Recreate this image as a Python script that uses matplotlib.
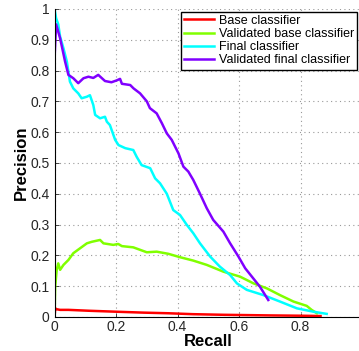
import matplotlib
matplotlib.use('Agg')
import matplotlib.pyplot as plt
from matplotlib.ticker import FuncFormatter

plt.rcParams['font.family'] = ['Liberation Sans', 'DejaVu Sans']

# 曲线数据 (recall, precision)
base_r = [0.0, 0.002, 0.007, 0.018, 0.045, 0.115, 0.2, 0.29, 0.37, 0.45, 0.55, 0.7, 0.8, 0.865]
base_p = [0.0, 0.028, 0.025, 0.023, 0.023, 0.02, 0.017, 0.014, 0.012, 0.009, 0.007, 0.005, 0.004, 0.003]

vbase_r = [0.0, 0.002, 0.007, 0.012, 0.018, 0.029, 0.045, 0.061, 0.083, 0.105, 0.121, 0.148,
           0.159, 0.191, 0.207, 0.219, 0.256, 0.278, 0.30, 0.332, 0.37, 0.408, 0.451, 0.495,
           0.549, 0.603, 0.647, 0.69, 0.733, 0.777, 0.82, 0.836, 0.853]
vbase_p = [0.0, 0.098, 0.153, 0.174, 0.153, 0.169, 0.185, 0.207, 0.223, 0.239, 0.244, 0.25,
           0.239, 0.234, 0.237, 0.23, 0.226, 0.218, 0.21, 0.212, 0.205, 0.194, 0.183, 0.169,
           0.147, 0.131, 0.109, 0.093, 0.071, 0.05, 0.036, 0.023, 0.012]

final_r = [0.0, 0.005, 0.012, 0.018, 0.029, 0.04, 0.045, 0.05, 0.061, 0.077, 0.088, 0.105,
           0.115, 0.126, 0.132, 0.148, 0.164, 0.17, 0.18, 0.197, 0.208, 0.23, 0.256, 0.267,
           0.283, 0.311, 0.327, 0.343, 0.365, 0.386, 0.408, 0.43, 0.451, 0.473, 0.506, 0.538,
           0.571, 0.593, 0.625, 0.679, 0.733, 0.788, 0.842, 0.885]
final_p = [1.0, 0.97, 0.95, 0.91, 0.872, 0.829, 0.796, 0.764, 0.742, 0.726, 0.71, 0.715,
           0.72, 0.688, 0.656, 0.645, 0.65, 0.634, 0.623, 0.575, 0.558, 0.548, 0.542, 0.52,
           0.493, 0.483, 0.45, 0.434, 0.40, 0.347, 0.331, 0.299, 0.272, 0.239, 0.196, 0.163,
           0.136, 0.109, 0.088, 0.071, 0.05, 0.028, 0.017, 0.01]

vfinal_r = [0.0, 0.0, 0.005, 0.018, 0.034, 0.045, 0.061, 0.077, 0.094, 0.11, 0.126, 0.142,
            0.164, 0.185, 0.202, 0.213, 0.219, 0.246, 0.257, 0.278, 0.30, 0.31, 0.332, 0.349,
            0.365, 0.381, 0.403, 0.419, 0.435, 0.451, 0.473, 0.495, 0.516, 0.549, 0.571, 0.598,
            0.62, 0.668, 0.695]
vfinal_p = [1.0, 0.84, 0.95, 0.905, 0.83, 0.786, 0.775, 0.759, 0.775, 0.78, 0.776, 0.786,
            0.766, 0.762, 0.768, 0.773, 0.757, 0.753, 0.742, 0.726, 0.70, 0.678, 0.661, 0.629,
            0.596, 0.575, 0.531, 0.488, 0.472, 0.445, 0.40, 0.353, 0.315, 0.277, 0.239, 0.196,
            0.158, 0.098, 0.055]

labels = ['Base classifier', 'Validated base classifier', 'Final classifier',
          'Validated final classifier']
colors = ['#ff0000', '#80ff00', '#00ffff', '#8000ff']

fig = plt.figure(figsize=(3.59, 3.51), dpi=100)
ax = fig.add_axes([0.152, 0.097, 0.8565, 0.8775])

ax.plot(base_r, base_p, color=colors[0], lw=1.8, label=labels[0])
ax.plot(vbase_r, vbase_p, color=colors[1], lw=1.8, label=labels[1])
ax.plot(final_r, final_p, color=colors[2], lw=1.8, label=labels[2])
ax.plot(vfinal_r, vfinal_p, color=colors[3], lw=1.8, label=labels[3])

ax.set_xlim(0, 1)
ax.set_ylim(0, 1)
ax.set_xticks([0, 0.2, 0.4, 0.6, 0.8, 1.0])
ax.set_xticklabels(['0', '0.2', '0.4', '0.6', '0.8', ''])
ax.set_yticks([i / 10 for i in range(11)])
fmt = FuncFormatter(lambda v, p: '%g' % v)
ax.yaxis.set_major_formatter(fmt)
ax.tick_params(direction='in', length=3, labelsize=10, colors='#262626', width=0.6)
ax.tick_params(axis='x', pad=2)

ax.grid(True, linestyle=(0, (1, 3)), color='#999999', lw=0.8)
ax.spines['top'].set_visible(False)
ax.spines['right'].set_visible(False)
ax.spines['left'].set_color('black')
ax.spines['bottom'].set_color('black')

ax.set_xlabel('Recall', fontsize=12, fontweight='bold', labelpad=0)
ax.set_ylabel('Precision', fontsize=12, fontweight='bold', labelpad=1)

leg = ax.legend(loc='upper right', bbox_to_anchor=(0.995, 0.967),
                bbox_transform=fig.transFigure, fontsize=9, fancybox=False,
                framealpha=1, edgecolor='black', borderpad=0.25, labelspacing=0.1,
                handlelength=2.4, handletextpad=0.4, borderaxespad=0)
leg.get_frame().set_linewidth(1.0)

fig.savefig('out.png', dpi=100)
